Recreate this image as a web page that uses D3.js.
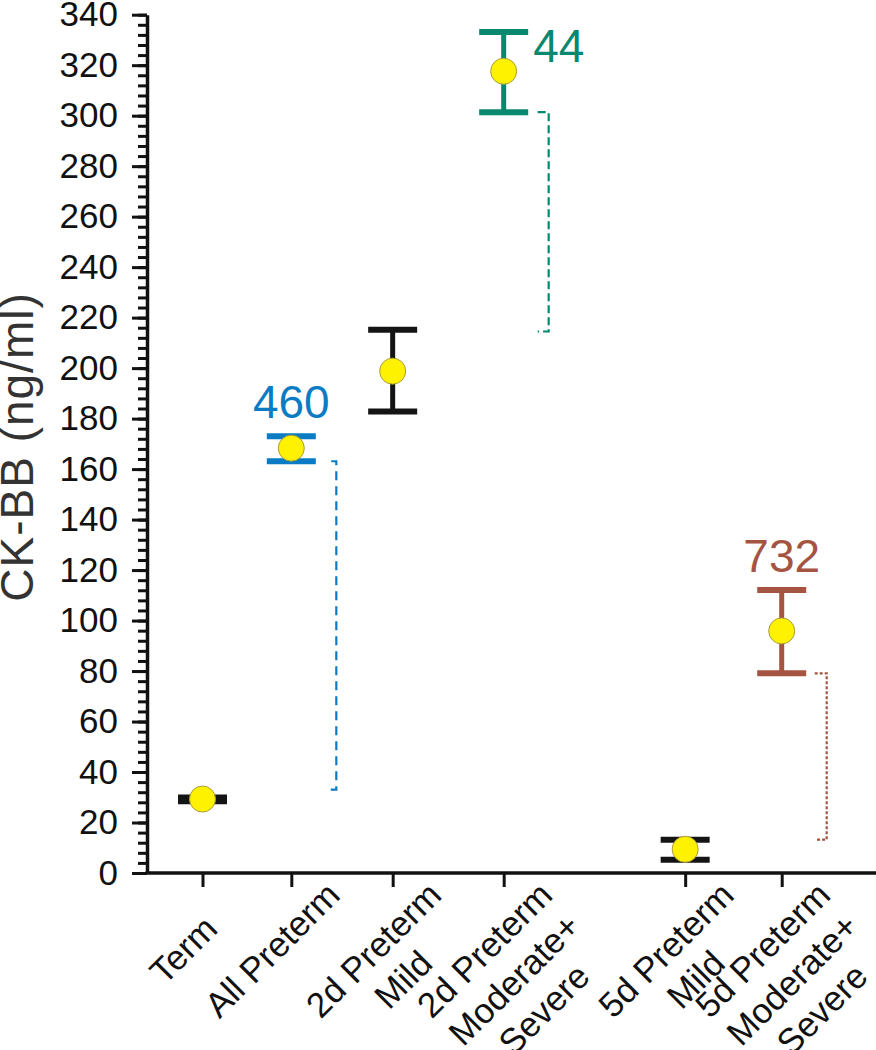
<!DOCTYPE html>
<html>
<head>
<meta charset="utf-8">
<script src="https://cdn.jsdelivr.net/npm/d3@7/dist/d3.min.js"></script>
<style>
  html, body { margin: 0; padding: 0; background: #fff; }
  svg { display: block; font-family: "Liberation Sans", Arial, sans-serif; }
</style>
</head>
<body>
<svg id="chart" width="876" height="1050"></svg>
<script>
// ---------- data ----------
const categories = [
  "Term",
  "All Preterm",
  "2d Preterm Mild",
  "2d Preterm Moderate+ Severe",
  "5d Preterm Mild",
  "5d Preterm Moderate+ Severe"
];
// group position of each category along the x axis (slot 5 is left empty between the 2d and 5d groups)
const categorySlots = [1, 1.92, 2.97, 4.12, 6, 7];
const labelLines = [
  ["Term"],
  ["All Preterm"],
  ["2d Preterm", "Mild"],
  ["2d Preterm", "Moderate+", "Severe"],
  ["5d Preterm", "Mild"],
  ["5d Preterm", "Moderate+", "Severe"]
];
const means = [29.3, 168.3, 198.8, 317.6, 9.4, 95.9];
const upper = [29.9, 173.0, 215.2, 333.1, 13.2, 112.1];
const lower = [28.4, 163.1, 182.8, 301.4, 5.2, 79.1];

const annotCategories = ["All Preterm", "2d Preterm Moderate+ Severe", "5d Preterm Moderate+ Severe"];
const annotTexts = ["460", "44", "732"];

const bracketCategories = ["All Preterm", "2d Preterm Moderate+ Severe", "5d Preterm Moderate+ Severe"];
const bracketTop = [163.1, 301.4, 79.1];
const bracketBottom = [33.0, 214.5, 13.2];

const yTicks = d3.range(0, 341, 20);
const yMinorTicks = d3.range(0, 341, 4);

// ---------- styles ----------
const colorOf = {
  "Term": "#141414",
  "All Preterm": "#0b7cc4",
  "2d Preterm Mild": "#141414",
  "2d Preterm Moderate+ Severe": "#07886f",
  "5d Preterm Mild": "#141414",
  "5d Preterm Moderate+ Severe": "#a55442"
};
const dashOf = {
  "All Preterm": "9,6",
  "2d Preterm Moderate+ Severe": "8,4",
  "5d Preterm Moderate+ Severe": "3,2"
};
const bracketTopTick = {
  "All Preterm": 5,
  "2d Preterm Moderate+ Severe": 11,
  "5d Preterm Moderate+ Severe": 12
};

// ---------- layout ----------
const W = 876, H = 1050;
const plotLeft = 147, plotBottom = 873, plotTop = 14.7;
const svg = d3.select("#chart");

const y = d3.scaleLinear().domain([0, 340]).range([plotBottom, plotTop]);
const xs = d3.scaleLinear().domain([1, 7]).range([202.5, 781.7]);
const slotOf = c => categorySlots[categories.indexOf(c)];
const x = c => xs(slotOf(c));

// y axis minor ticks
svg.append("g")
  .attr("transform", `translate(${plotLeft},0)`)
  .call(d3.axisLeft(y).tickValues(yMinorTicks).tickSize(9).tickFormat(""))
  .call(g => g.select(".domain").remove())
  .call(g => g.selectAll("line").attr("stroke", "#111").attr("stroke-width", 3));

// y axis major
const yAxis = svg.append("g")
  .attr("transform", `translate(${plotLeft},0)`)
  .call(d3.axisLeft(y).tickValues(yTicks).tickSize(15).tickPadding(14).tickSizeOuter(0));
yAxis.select(".domain").attr("stroke", "#111").attr("stroke-width", 3.5);
yAxis.selectAll("line").attr("stroke", "#111").attr("stroke-width", 3);
yAxis.selectAll("text")
  .attr("font-size", 35)
  .attr("fill", "#111")
  .attr("font-family", "'Liberation Sans', Arial, sans-serif");

// x axis (ticks at category slots)
const xAxis = svg.append("g")
  .attr("transform", `translate(0,${plotBottom})`)
  .call(d3.axisBottom(xs).tickValues(categorySlots).tickSize(14).tickFormat(""));
xAxis.select(".domain").remove();
xAxis.selectAll("line").attr("stroke", "#111").attr("stroke-width", 3);
svg.append("line")
  .attr("x1", plotLeft - 1.5).attr("x2", W)
  .attr("y1", plotBottom).attr("y2", plotBottom)
  .attr("stroke", "#111").attr("stroke-width", 3.5);

// x labels (rotated, centered multi-line)
categories.forEach((c, i) => {
  const g = svg.append("g")
    .attr("transform", `translate(${x(c)},${plotBottom + 14}) rotate(-45)`);
  labelLines[i].forEach((ln, j) => {
    g.append("text")
      .attr("x", -58)
      .attr("y", 43 + j * 42)
      .attr("text-anchor", "middle")
      .attr("font-size", 35)
      .attr("fill", "#111")
      .text(ln);
  });
});

// y title
svg.append("text")
  .attr("transform", `translate(33,447) rotate(-90)`)
  .attr("text-anchor", "middle")
  .attr("font-size", 46)
  .attr("letter-spacing", 1)
  .attr("fill", "#333")
  .text("CK-BB (ng/ml)");

// brackets
bracketCategories.forEach((c, i) => {
  const bx = x(c) + 45;
  const path = d3.path();
  path.moveTo(bx - bracketTopTick[c], y(bracketTop[i]));
  path.lineTo(bx, y(bracketTop[i]));
  path.lineTo(bx, y(bracketBottom[i]));
  path.lineTo(bx - 11, y(bracketBottom[i]));
  svg.append("path")
    .attr("d", path.toString())
    .attr("fill", "none")
    .attr("stroke", colorOf[c])
    .attr("stroke-width", 2.2)
    .attr("stroke-dasharray", dashOf[c]);
});

// error bars
const capW = 49;
categories.forEach((c, i) => {
  const cx = x(c);
  const col = colorOf[c];
  svg.append("line")
    .attr("x1", cx).attr("x2", cx)
    .attr("y1", y(lower[i])).attr("y2", y(upper[i]))
    .attr("stroke", col).attr("stroke-width", 5);
  [upper[i], lower[i]].forEach(v => {
    svg.append("line")
      .attr("x1", cx - capW / 2).attr("x2", cx + capW / 2)
      .attr("y1", y(v)).attr("y2", y(v))
      .attr("stroke", col).attr("stroke-width", 6);
  });
});

// mean points
svg.selectAll("circle.mean")
  .data(categories)
  .join("circle")
  .attr("class", "mean")
  .attr("cx", c => x(c))
  .attr("cy", (c, i) => y(means[i]))
  .attr("r", 13)
  .attr("fill", "#fff200")
  .attr("stroke", "#a99b3a")
  .attr("stroke-width", 1);

// annotations
annotCategories.forEach((c, i) => {
  const k = categories.indexOf(c);
  const t = svg.append("text")
    .attr("font-size", 46)
    .attr("fill", colorOf[c])
    .text(annotTexts[i]);
  if (c === "2d Preterm Moderate+ Severe") {
    t.attr("x", x(c) + capW / 2 + 5)
     .attr("y", y(upper[k]) + 30)
     .attr("text-anchor", "start");
  } else {
    t.attr("x", x(c))
     .attr("y", y(upper[k]) - 18)
     .attr("text-anchor", "middle");
  }
});
</script>
</body>
</html>
